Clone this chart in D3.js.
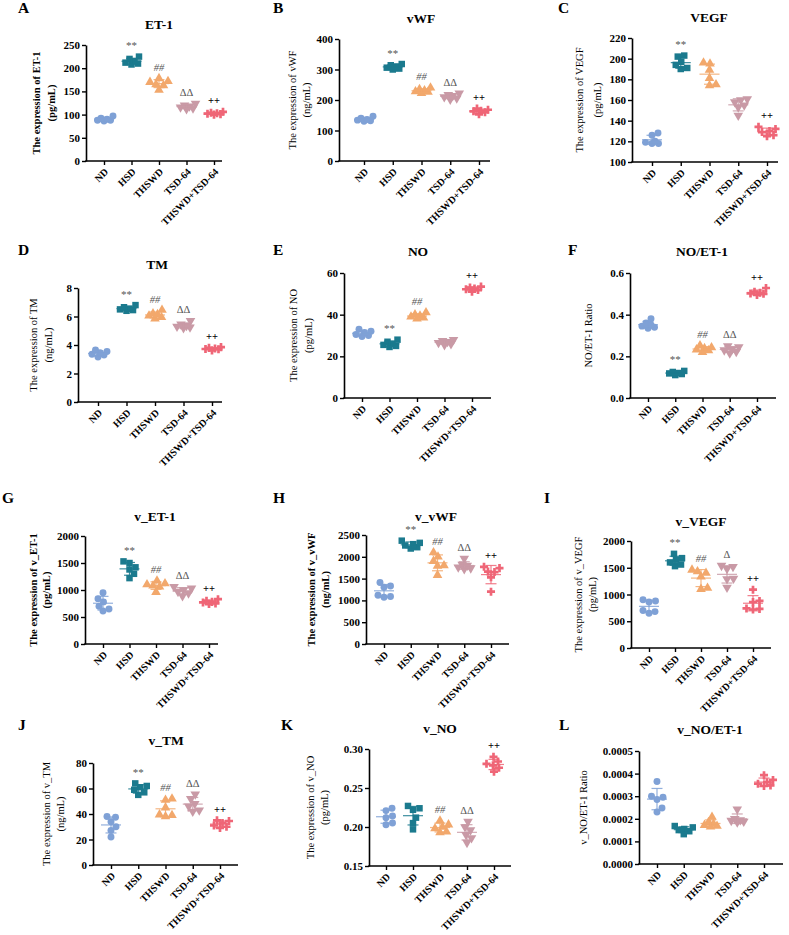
<!DOCTYPE html>
<html><head><meta charset="utf-8">
<script src="https://cdn.jsdelivr.net/npm/d3@7"></script>
<style>body{margin:0;background:#fff}svg{display:block}svg text{font-family:"Liberation Serif","Times New Roman",serif}</style>
</head><body><svg id="c" width="789" height="935"></svg>
<script>
// ---------------- DATA ----------------
const groups = ["ND", "HSD", "THSWD", "TSD-64", "THSWD+TSD-64"];
const groupColors = ["#7fa1d6", "#1b7a8e", "#f2a86c", "#c99aa6", "#ef6677"];

const et1 = [[86,88,88,90,92,97],[208,210,212,215,220,225],[153,163,165,170,172,178],[112,114,116,118,120,124],[100,101,102,103,104,106]];
const vwf = [[130,132,134,136,140,147],[300,303,306,310,314,318],[222,226,228,231,235,240],[202,206,210,214,217,222],[153,160,163,165,168,172]];
const vegf = [[118,118,119,120,126,128],[190,191,194,197,202,203],[174,175,181,189,195,196],[145,153,155,158,160,161],[125,126,129,130,132,134]];
const tm = [[3.15,3.3,3.35,3.45,3.55,3.65],[6.4,6.45,6.5,6.55,6.65,6.8],[5.85,5.95,6.05,6.15,6.2,6.45],[5.2,5.25,5.3,5.35,5.45,5.7],[3.62,3.7,3.72,3.75,3.8,3.85]];
const no = [[29.5,30,30.5,31.5,32,33],[24.5,25,25.5,26,27,28],[38,38.5,39,39.5,40,41],[25.5,26,26.5,27,27.5,28],[51,51.8,52.2,52.5,53,53.5]];
const noEt1 = [[0.335,0.34,0.345,0.35,0.36,0.38],[0.11,0.115,0.118,0.12,0.125,0.13],[0.22,0.228,0.232,0.238,0.242,0.252],[0.215,0.222,0.23,0.235,0.245,0.25],[0.495,0.5,0.502,0.505,0.51,0.528]];
const vEt1 = [[610,650,700,780,840,950],[1220,1300,1380,1420,1500,1530],[960,1060,1080,1100,1120,1170],[890,940,970,1000,1030,1060],[740,750,770,780,800,830]];
const vVwf = [[1070,1090,1120,1300,1330,1410],[2190,2220,2260,2290,2320,2370],[1580,1790,1800,1900,2000,2100],[1720,1740,1760,1800,1820,1960],[1200,1530,1650,1660,1740,1770]];
const vVegf = [[650,680,700,860,880,900],[1530,1560,1600,1650,1680,1760],[1100,1120,1330,1400,1430,1460],[1130,1290,1300,1480,1520,1540],[720,730,740,860,880,1090]];
const vTm = [[22,27,30,34,37.5,38],[55,57,59,61,62,64],[38,39,39.5,45,51,52],[42,43,46,48,52,55.5],[29,30,31,33,34.5,35]];
const vNo = [[0.203,0.205,0.212,0.214,0.221,0.224],[0.197,0.205,0.212,0.222,0.224,0.227],[0.193,0.194,0.198,0.2,0.203,0.208],[0.18,0.186,0.19,0.196,0.2,0.207],[0.271,0.276,0.279,0.281,0.284,0.29]];
const vNoEt1 = [[0.00023,0.000248,0.000285,0.000295,0.0003,0.000365],[0.000132,0.000145,0.00015,0.000155,0.000162,0.000168],[0.000165,0.000168,0.000172,0.000178,0.000185,0.000208],[0.000185,0.000188,0.000192,0.000195,0.0002,0.000242],[0.000345,0.000348,0.000355,0.000362,0.000372,0.000393]];

const ticksA = [0,50,100,150,200,250];
const ticksB = [0,100,200,300,400];
const ticksC = [100,120,140,160,180,200,220];
const ticksD = [0,2,4,6,8];
const ticksE = [0,20,40,60];
const ticksF = [0,0.2,0.4,0.6];
const ticksG = [0,500,1000,1500,2000];
const ticksH = [0,500,1000,1500,2000,2500];
const ticksI = [0,500,1000,1500,2000];
const ticksJ = [0,20,40,60,80];
const ticksK = [0.15,0.20,0.25,0.30];
const ticksL = [0,0.0001,0.0002,0.0003,0.0004,0.0005];

const sigFull = ["", "**", "##", "\u0394\u0394", "++"];
const sigC = ["", "**", "", "", "++"];
const sigE = ["", "**", "##", "", "++"];
const sigI = ["", "**", "##", "\u0394", "++"];
const sigK = ["", "", "##", "\u0394\u0394", "++"];
const sigL = ["", "", "", "", ""];

const panelDefs = [
  {letter:"A", title:"ET-1", ylab:["The expression of ET-1","(pg/mL)"], data:et1, ticks:ticksA, fmt:"d", sig:sigFull},
  {letter:"B", title:"vWF", ylab:["The expression of  vWF","(ng/mL)"], data:vwf, ticks:ticksB, fmt:"d", sig:sigFull},
  {letter:"C", title:"VEGF", ylab:["The expression of VEGF","(pg/mL)"], data:vegf, ticks:ticksC, fmt:"d", sig:sigC},
  {letter:"D", title:"TM", ylab:["The expression of TM","(ng/mL)"], data:tm, ticks:ticksD, fmt:"d", sig:sigFull},
  {letter:"E", title:"NO", ylab:["The expression of NO","(pg/mL)"], data:no, ticks:ticksE, fmt:"d", sig:sigE},
  {letter:"F", title:"NO/ET-1", ylab:["NO/ET-1 Ratio"], data:noEt1, ticks:ticksF, fmt:".1f", sig:sigFull},
  {letter:"G", title:"v_ET-1", ylab:["The expression of v_ET-1","(pg/mL)"], data:vEt1, ticks:ticksG, fmt:"d", sig:sigFull},
  {letter:"H", title:"v_vWF", ylab:["The expression of v_vWF","(ng/mL)"], data:vVwf, ticks:ticksH, fmt:"d", sig:sigFull},
  {letter:"I", title:"v_VEGF", ylab:["The expression of v_VEGF","(pg/mL)"], data:vVegf, ticks:ticksI, fmt:"d", sig:sigI},
  {letter:"J", title:"v_TM", ylab:["The expression of v_TM","(ng/mL)"], data:vTm, ticks:ticksJ, fmt:"d", sig:sigFull},
  {letter:"K", title:"v_NO", ylab:["The expression of v_NO","(pg/mL)"], data:vNo, ticks:ticksK, fmt:".2f", sig:sigK},
  {letter:"L", title:"v_NO/ET-1", ylab:["v_NO/ET-1 Ratio"], data:vNoEt1, ticks:ticksL, fmt:".4f", sig:sigL}
];

// ---------------- LAYOUT ----------------
const layout = [
  {ax:86, yT:45, yB:161, c0:104, c4:214, xEnd:222, tx:159, ty:29, lx:18, ly:13, yl:[36,51], bold:true},
  {ax:339, yT:39, yB:161, c0:364, c4:479, xEnd:490, tx:421, ty:23, lx:273, ly:13, yl:[292,306], bold:false},
  {ax:632, yT:38, yB:162, c0:652, c4:767, xEnd:778, tx:709, ty:22, lx:558, ly:13, yl:[579,597], bold:false},
  {ax:78, yT:288, yB:402, c0:98, c4:212, xEnd:222, tx:157, ty:269, lx:18, ly:255, yl:[33,48], bold:false},
  {ax:344, yT:273, yB:398, c0:362, c4:472, xEnd:491, tx:418, ty:256, lx:273, ly:255, yl:[293,308], bold:false},
  {ax:630, yT:273, yB:398, c0:648, c4:757, xEnd:776, tx:702, ty:256, lx:568, ly:255, yl:[588], bold:false},
  {ax:85, yT:536, yB:644, c0:103, c4:209, xEnd:218, tx:155, ty:521, lx:2, ly:503, yl:[33,46], bold:true},
  {ax:366, yT:535, yB:644, c0:384, c4:491, xEnd:509, tx:436, ty:521, lx:273, ly:503, yl:[311,325], bold:true},
  {ax:631, yT:541, yB:648, c0:649, c4:753, xEnd:771, tx:701, ty:526, lx:544, ly:503, yl:[578,592], bold:false},
  {ax:93, yT:763, yB:865, c0:111, c4:220, xEnd:238, tx:166, ty:745, lx:18, ly:730, yl:[46,60], bold:false},
  {ax:369, yT:749, yB:866, c0:386, c4:494, xEnd:511, tx:440, ty:733, lx:281, ly:730, yl:[310,324], bold:false},
  {ax:639, yT:751, yB:864, c0:657, c4:764, xEnd:783, tx:710, ty:734, lx:559, ly:730, yl:[583], bold:false}
];

const svg = d3.select("#c");
svg.append("rect").attr("width",789).attr("height",935).attr("fill","#fff");

const triDown = { draw(ctx, size){ const h = Math.sqrt(size*4/Math.sqrt(3)); const s=h*Math.sqrt(3)/2;
  ctx.moveTo(-h/2, -s/3); ctx.lineTo(h/2, -s/3); ctx.lineTo(0, 2*s/3); ctx.closePath(); } };
const symbolTypes = [d3.symbolCircle, d3.symbolSquare, d3.symbolTriangle, triDown, d3.symbolCross];
const symbolSizes = [38, 42, 40, 40, 36];

function swarm(pys, D, maxOff) {
  const placed = [];
  const order = pys.map((v,k)=>k).sort((a,b)=>pys[b]-pys[a]);
  order.forEach(k => {
    const py = pys[k];
    let best = null, bestScore = -Infinity;
    for (let s = 0; s <= maxOff; s += 0.5) {
      for (const cand of (s === 0 ? [0] : [s, -s])) {
        const md = placed.length ? d3.min(placed, q => Math.hypot(q[0]-cand, q[1]-py)) : Infinity;
        if (md >= D) { if (best === null || bestScore < Infinity) { best = cand; bestScore = Infinity; } }
        else if (bestScore < Infinity && md > bestScore) { best = cand; bestScore = md; }
      }
      if (bestScore === Infinity) break;
    }
    placed.push([best, py]);
  });
  return placed;
}

panelDefs.forEach((p, i) => {
  const L = layout[i];
  const g = svg.append("g");
  const y = d3.scaleLinear().domain([p.ticks[0], p.ticks[p.ticks.length-1]]).range([L.yB, L.yT]);
  const x = d3.scalePoint().domain(groups).range([L.c0, L.c4]);

  g.append("text").attr("x", L.lx).attr("y", L.ly).text(p.letter)
    .attr("font-weight", "bold").attr("font-size", 15.5);
  g.append("text").attr("x", L.tx).attr("y", L.ty).attr("text-anchor","middle").text(p.title)
    .attr("font-weight", "bold").attr("font-size", 13.5);

  const ya = g.append("g").attr("transform", `translate(${L.ax},0)`)
    .call(d3.axisLeft(y).tickValues(p.ticks).tickSize(4).tickSizeOuter(0).tickFormat(d3.format(p.fmt)));
  ya.select(".domain").attr("stroke-width", 1.6);
  ya.selectAll(".tick line").attr("stroke-width", 1.4);
  ya.selectAll(".tick text").attr("font-weight","bold").attr("font-size", 11).attr("x", -6)
    .style("font-family", "'Liberation Serif','Times New Roman',serif");

  g.append("line").attr("x1", L.ax-0.8).attr("x2", L.xEnd).attr("y1", L.yB).attr("y2", L.yB)
    .attr("stroke","#000").attr("stroke-width",1.6);
  const xa = g.append("g").attr("transform", `translate(0,${L.yB})`)
    .call(d3.axisBottom(x).tickSize(4).tickSizeOuter(0));
  xa.select(".domain").remove();
  xa.selectAll(".tick line").attr("stroke-width", 1.4);
  xa.selectAll(".tick text").attr("font-weight","bold").attr("font-size", 10)
    .style("font-family", "'Liberation Serif','Times New Roman',serif")
    .attr("text-anchor","end").attr("dy","0.35em").attr("y", 0)
    .attr("transform","translate(2,9) rotate(-45)");

  const ymid = (L.yT + L.yB)/2;
  p.ylab.forEach((t, k) => {
    g.append("text").attr("transform", `translate(${L.yl[k]},${ymid}) rotate(-90)`)
      .attr("text-anchor","middle").attr("dominant-baseline","central").text(t)
      .attr("font-weight", L.bold ? "bold" : "normal").attr("font-size", 10.5);
  });

  p.data.forEach((vals, gi) => {
    const cx = x(groups[gi]);
    const col = groupColors[gi];
    const placed = swarm(vals.map(v => y(v)), 6.2, 9);
    const sym = d3.symbol().type(symbolTypes[gi]).size(symbolSizes[gi]);
    g.append("g").selectAll("path").data(placed).join("path")
      .attr("d", sym).attr("transform", d => `translate(${cx + d[0]},${d[1]})`).attr("fill", col);

    const m = d3.mean(vals), sd = d3.deviation(vals);
    const lines = [
      [cx-10, y(m), cx+10, y(m)],
      [cx, y(m+sd), cx, y(m-sd)],
      [cx-5.5, y(m+sd), cx+5.5, y(m+sd)],
      [cx-5.5, y(m-sd), cx+5.5, y(m-sd)]
    ];
    g.append("g").selectAll("line").data(lines).join("line")
      .attr("x1", d=>d[0]).attr("y1", d=>d[1]).attr("x2", d=>d[2]).attr("y2", d=>d[3])
      .attr("stroke", col).attr("stroke-width", 1.2).attr("stroke-opacity", 0.85);

    const s = p.sig[gi];
    if (s) {
      const top = Math.min(y(d3.max(vals)) - 3.5, y(m+sd));
      g.append("text").attr("x", cx).attr("y", top - 4).attr("text-anchor","middle").text(s)
        .attr("font-size", s === "**" ? 11 : 10.5)
        .attr("font-weight", s === "++" ? "bold" : "normal")
        .attr("font-style", s === "##" ? "italic" : "normal")
        .attr("fill", s === "++" ? "#000" : "#555");
    }
  });
});
</script></body></html>
